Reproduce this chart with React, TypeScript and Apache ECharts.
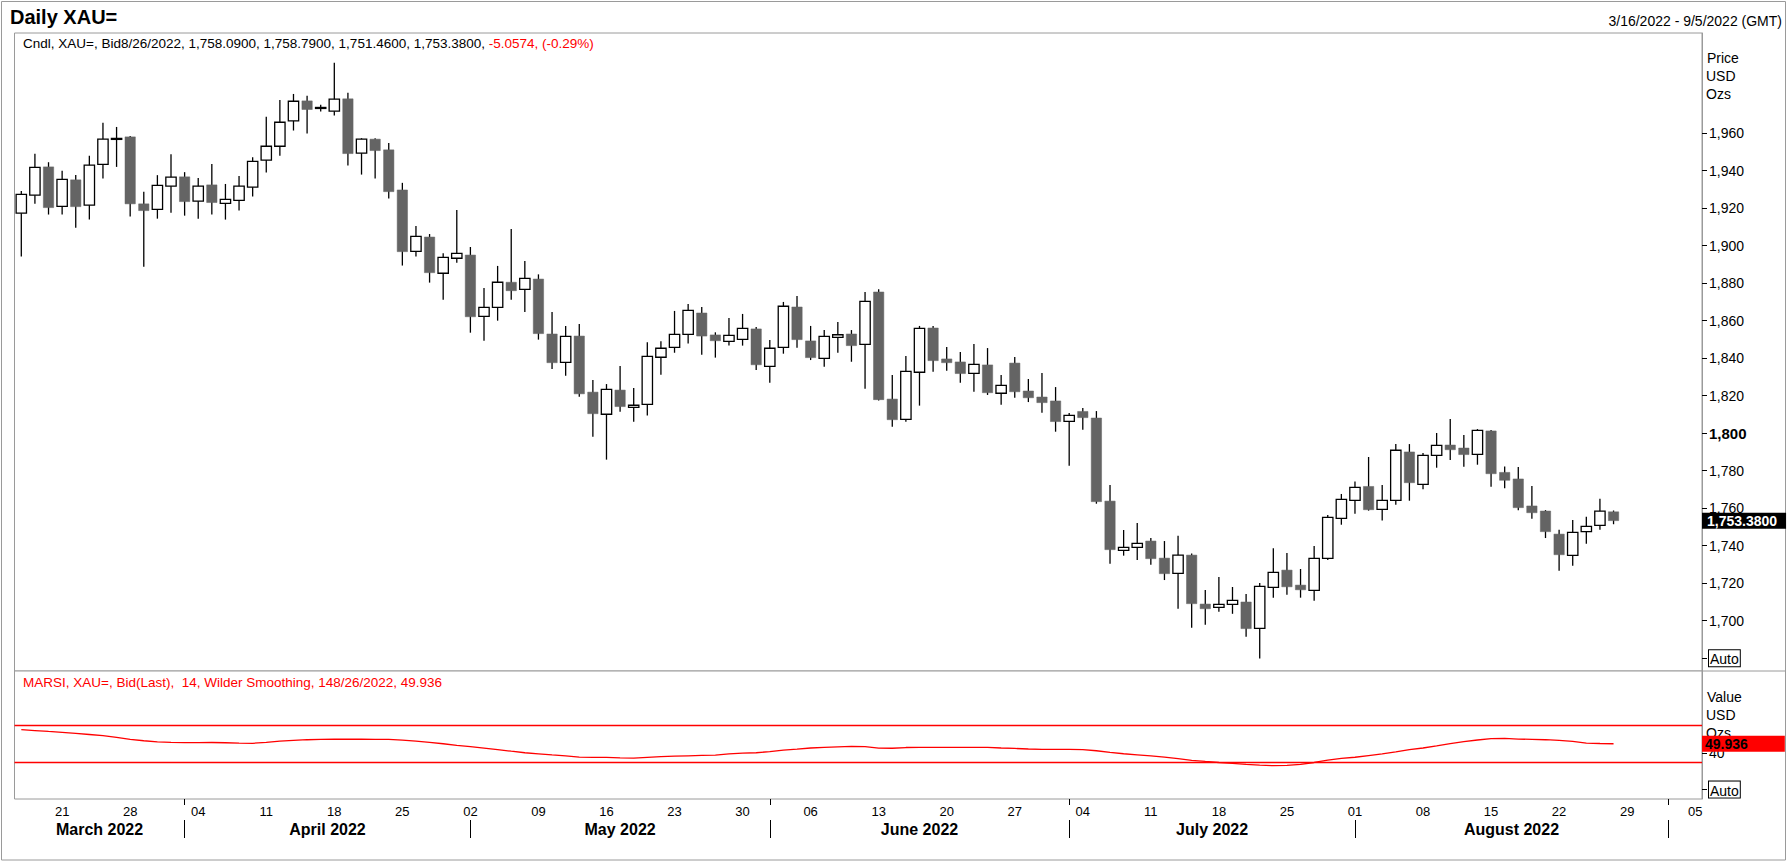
import React, { useEffect, useRef } from 'react';
import * as echarts from 'echarts';

// ---------- data ----------
const rangeStart = '2022-03-16';
const rangeEnd = '2022-09-05';
const instrument = 'XAU=';

const opens = [
  1917.3, 1926.9, 1942.0, 1921.0, 1935.1, 1921.6, 1943.4, 1956.9, 1958.0, 1922.3,
  1919.4, 1931.7, 1936.7, 1923.7, 1932.4, 1922.6, 1924.2, 1931.2, 1945.6, 1953.0,
  1966.5, 1977.2, 1973.3, 1971.7, 1978.3, 1949.3, 1956.8, 1951.1, 1929.7, 1897.0,
  1904.6, 1885.3, 1893.3, 1895.0, 1862.3, 1867.1, 1880.5, 1876.7, 1882.2, 1852.9,
  1837.8, 1851.8, 1821.9, 1810.1, 1823.0, 1813.8, 1815.4, 1840.5, 1845.8, 1852.7,
  1864.1, 1852.4, 1849.0, 1850.0, 1855.6, 1835.6, 1845.8, 1867.3, 1849.2, 1839.9,
  1851.1, 1852.9, 1847.4, 1875.3, 1818.2, 1807.4, 1832.5, 1856.1, 1839.6, 1838.0,
  1831.9, 1836.4, 1821.3, 1837.4, 1822.5, 1819.3, 1817.2, 1806.3, 1811.6, 1808.1,
  1763.8, 1737.5, 1739.1, 1742.5, 1733.4, 1725.3, 1735.0, 1708.9, 1707.1, 1708.7,
  1710.0, 1695.9, 1717.8, 1727.0, 1719.0, 1716.2, 1733.3, 1754.6, 1764.2, 1771.6,
  1759.4, 1764.2, 1790.0, 1772.7, 1788.2, 1793.7, 1792.1, 1788.7, 1801.2, 1779.1,
  1775.6, 1761.2, 1758.5, 1746.2, 1734.9, 1747.5, 1750.9, 1758.09,
];
const highs = [
  1929.2, 1949.0, 1944.5, 1939.9, 1937.7, 1947.9, 1965.5, 1963.3, 1958.5, 1928.7,
  1937.6, 1948.7, 1939.2, 1936.1, 1943.6, 1932.9, 1937.2, 1947.2, 1968.7, 1977.7,
  1980.9, 1979.9, 1975.1, 1997.5, 1981.5, 1957.3, 1957.3, 1954.8, 1933.5, 1910.5,
  1906.2, 1895.9, 1919.0, 1899.3, 1877.4, 1889.2, 1908.9, 1891.8, 1884.7, 1864.6,
  1857.2, 1858.2, 1828.4, 1826.2, 1835.8, 1824.1, 1848.5, 1849.0, 1865.2, 1868.9,
  1867.3, 1853.8, 1861.4, 1863.6, 1856.6, 1849.7, 1870.0, 1873.2, 1857.2, 1855.0,
  1859.3, 1855.0, 1875.3, 1876.7, 1831.0, 1841.2, 1857.2, 1857.2, 1846.0, 1843.3,
  1847.6, 1845.4, 1831.0, 1840.6, 1828.9, 1832.1, 1824.6, 1810.8, 1813.4, 1811.8,
  1772.4, 1748.4, 1752.1, 1744.1, 1742.5, 1745.3, 1735.9, 1716.4, 1723.3, 1718.0,
  1714.2, 1720.1, 1738.6, 1736.1, 1727.6, 1739.8, 1756.4, 1767.6, 1774.3, 1787.3,
  1772.4, 1794.2, 1794.2, 1789.4, 1800.1, 1807.6, 1799.0, 1802.2, 1801.7, 1782.3,
  1782.0, 1771.8, 1759.0, 1748.5, 1753.7, 1755.5, 1765.1, 1758.79,
];
const lows = [
  1894.2, 1922.3, 1916.6, 1916.6, 1909.6, 1913.9, 1935.8, 1942.0, 1915.5, 1888.8,
  1914.4, 1917.6, 1916.0, 1914.4, 1916.6, 1913.9, 1918.7, 1926.2, 1939.0, 1948.0,
  1961.4, 1959.8, 1971.5, 1969.4, 1942.7, 1937.9, 1935.8, 1925.1, 1889.4, 1894.2,
  1880.3, 1871.2, 1890.9, 1853.6, 1849.3, 1860.0, 1871.2, 1864.6, 1849.9, 1834.2,
  1830.7, 1819.5, 1798.1, 1785.9, 1811.5, 1806.1, 1809.4, 1831.2, 1842.9, 1847.8,
  1841.9, 1840.3, 1846.7, 1846.7, 1833.7, 1826.9, 1842.4, 1845.6, 1839.0, 1835.5,
  1842.9, 1838.1, 1823.7, 1817.5, 1803.5, 1806.1, 1814.7, 1832.8, 1833.3, 1826.9,
  1822.1, 1820.4, 1815.2, 1818.9, 1816.6, 1810.9, 1800.8, 1782.7, 1801.9, 1762.4,
  1730.4, 1734.7, 1732.4, 1729.9, 1721.7, 1706.4, 1696.3, 1697.9, 1704.8, 1703.7,
  1691.5, 1679.8, 1712.3, 1713.9, 1712.3, 1710.7, 1732.4, 1751.2, 1757.1, 1758.7,
  1753.4, 1761.9, 1764.0, 1770.1, 1781.6, 1785.7, 1782.1, 1783.2, 1771.5, 1770.6,
  1758.9, 1754.4, 1744.1, 1726.7, 1729.3, 1741.1, 1748.5, 1751.46,
];
const closes = [
  1927.4, 1941.8, 1920.3, 1935.4, 1920.8, 1942.9, 1956.8, 1957.2, 1922.3, 1918.7,
  1932.2, 1936.5, 1923.5, 1931.7, 1923.0, 1924.7, 1931.7, 1945.0, 1953.0, 1965.8,
  1977.0, 1972.6, 1973.7, 1978.1, 1949.1, 1956.8, 1950.7, 1928.8, 1896.8, 1905.0,
  1885.6, 1893.8, 1895.9, 1862.1, 1867.1, 1880.5, 1876.0, 1882.6, 1853.1, 1837.6,
  1851.6, 1821.0, 1810.4, 1823.4, 1814.2, 1814.9, 1841.0, 1845.3, 1852.7, 1865.5,
  1851.8, 1849.3, 1852.2, 1855.9, 1836.5, 1845.3, 1867.7, 1849.9, 1840.3, 1851.6,
  1852.5, 1846.7, 1870.3, 1817.9, 1807.2, 1833.0, 1855.9, 1838.7, 1837.6, 1831.8,
  1836.7, 1821.6, 1825.5, 1822.1, 1818.9, 1816.3, 1806.2, 1809.5, 1808.3, 1763.5,
  1737.9, 1739.1, 1741.3, 1733.1, 1725.1, 1735.0, 1709.1, 1706.4, 1708.7, 1710.9,
  1695.8, 1718.3, 1725.8, 1718.1, 1716.5, 1733.3, 1755.1, 1764.7, 1771.1, 1759.2,
  1764.2, 1790.9, 1773.6, 1788.2, 1793.5, 1791.2, 1788.6, 1801.5, 1778.4, 1774.9,
  1760.3, 1757.6, 1747.5, 1735.2, 1747.1, 1750.3, 1758.4374, 1753.38,
];
const rsiValues = [
  65.2, 64.3, 63.3, 62.4, 61.2, 60.0, 58.7, 56.8, 54.7, 53.2,
  51.9, 51.4, 51.2, 51.2, 51.3, 51.0, 50.6, 50.4, 51.5, 52.8,
  53.6, 54.3, 54.7, 54.8, 54.8, 54.8, 54.7, 54.6, 53.9, 52.8,
  51.5, 49.9, 48.2, 46.7, 45.2, 43.6, 41.8, 40.1, 38.9, 37.7,
  36.6, 35.4, 35.1, 35.1, 34.6, 34.2, 35.0, 35.8, 36.4, 36.8,
  37.2, 37.5, 38.8, 39.7, 40.1, 41.4, 43.0, 44.0, 45.3, 46.0,
  46.6, 47.1, 46.8, 45.2, 45.0, 45.8, 46.0, 46.0, 46.0, 46.0,
  46.0, 46.0, 45.3, 44.8, 44.2, 43.8, 43.8, 43.8, 43.6, 42.3,
  40.6, 39.0, 37.8, 36.6, 35.3, 33.6, 31.9, 30.6, 29.5, 28.5,
  27.4, 26.6, 26.0, 26.3, 27.5, 29.5, 32.0, 34.0, 35.2, 37.0,
  38.8, 41.0, 43.5, 45.3, 47.6, 50.0, 52.3, 54.0, 55.5, 55.8,
  55.0, 54.7, 54.3, 53.6, 52.5, 50.5, 50.2, 49.936,
];
const priceTicks = [1680, 1700, 1720, 1740, 1760, 1780, 1800, 1820, 1840, 1860, 1880, 1900, 1920, 1940, 1960];
const rsiTicks = [0, 40];
const rsiBands = [70, 30];
const monthNames = ['January', 'February', 'March', 'April', 'May', 'June', 'July', 'August', 'September', 'October', 'November', 'December'];

// ---------- helpers ----------
const FONT = "'Liberation Sans', Arial, sans-serif";
const GREY = '#9a9a9a';
const UP_FILL = '#ffffff';
const DOWN_FILL = '#646464';

function tradingDays(start: string, end: string): Date[] {
  const out: Date[] = [];
  const d = new Date(start + 'T00:00:00Z');
  const e = new Date(end + 'T00:00:00Z');
  while (d.getTime() <= e.getTime()) {
    const wd = d.getUTCDay();
    if (wd !== 0 && wd !== 6) out.push(new Date(d.getTime()));
    d.setUTCDate(d.getUTCDate() + 1);
  }
  return out;
}
const pad2 = (n: number) => (n < 10 ? '0' + n : '' + n);
const isoOf = (d: Date) => `${d.getUTCFullYear()}-${pad2(d.getUTCMonth() + 1)}-${pad2(d.getUTCDate())}`;
const usOf = (d: Date) => `${d.getUTCMonth() + 1}/${d.getUTCDate()}/${d.getUTCFullYear()}`;
const fmt4 = (v: number) => v.toLocaleString('en-US', { minimumFractionDigits: 4, maximumFractionDigits: 4 });
const fmt0 = (v: number) => v.toLocaleString('en-US', { maximumFractionDigits: 0 });

export default function App() {
  const ref = useRef<HTMLDivElement>(null);

  useEffect(() => {
    if (!ref.current) return;
    const chart = echarts.init(ref.current, undefined, { renderer: 'svg' });

    const days = tradingDays(rangeStart, rangeEnd);
    const cats = days.map(isoOf);
    const N = cats.length;
    const last = closes.length - 1;
    const lastDate = days[last];

    const mondayIdx: number[] = [];
    const monthStartIdx: number[] = [];
    days.forEach((d, i) => {
      if (d.getUTCDay() === 1) mondayIdx.push(i);
      if (i > 0 && d.getUTCMonth() !== days[i - 1].getUTCMonth()) monthStartIdx.push(i);
    });
    const shortTickIdx = monthStartIdx.filter((i) => days[i].getUTCDay() !== 1);
    const bounds = [-0.5, ...monthStartIdx, N - 0.5];
    const monthMid: number[] = [];
    const monthLabelMap: Record<string, string> = {};
    for (let k = 0; k < bounds.length - 1; k++) {
      const a = bounds[k];
      const b = bounds[k + 1];
      if (b - a < 8) continue;
      const mid = (a + b) / 2;
      const d = days[Math.max(0, Math.ceil(a))];
      monthMid.push(mid);
      monthLabelMap[String(mid)] = `${monthNames[d.getUTCMonth()]} ${d.getUTCFullYear()}`;
    }

    const candleData = opens.map((o, i) => [i, o, closes[i], lows[i], highs[i]]);
    const chg = closes[last] - closes[last - 1];
    const pct = (chg / closes[last - 1]) * 100;
    const headMain = `Cndl, ${instrument}, Bid${usOf(lastDate)}, ${fmt4(opens[last])}, ${fmt4(highs[last])}, ${fmt4(lows[last])}, ${fmt4(closes[last])}, `;
    const headChg = `${chg.toFixed(4)}, (${pct.toFixed(2)}%)`;
    const rsiLast = rsiValues[rsiValues.length - 1];
    const headRsi = `MARSI, ${instrument}, Bid(Last),  14, Wilder Smoothing, 14${usOf(lastDate)}, ${rsiLast.toFixed(3)}`;
    const rangeText = `${usOf(days[0])} - ${usOf(days[N - 1])} (GMT)`;

    const gridL = 14.5;
    const gridR = 86;
    const mainTop = 33;
    const mainH = 638;
    const rsiTop = 671;
    const rsiH = 128;

    const txt = (text: string, x: number, y: number, extra: any = {}) => ({
      type: 'text',
      x,
      y,
      silent: true,
      style: { text, fontFamily: FONT, fontSize: 14, fill: '#000', align: 'left', verticalAlign: 'middle', ...extra },
    });

    const autoRich = {
      fontSize: 14, color: '#000', fontFamily: FONT, borderColor: '#000', borderWidth: 1,
      backgroundColor: '#fff', padding: [2, 1, 0, 1],
    };

    const option: any = {
      animation: false,
      backgroundColor: '#ffffff',
      textStyle: { fontFamily: FONT },
      grid: [
        { left: gridL, right: gridR, top: mainTop, height: mainH, show: true, borderColor: GREY, borderWidth: 1, backgroundColor: '#fff' },
        { left: gridL, right: gridR, top: rsiTop, height: rsiH, show: true, borderColor: GREY, borderWidth: 1, backgroundColor: '#fff' },
      ],
      xAxis: [
        { gridIndex: 0, type: 'category', data: cats, show: false, axisLine: { onZero: false } },
        { gridIndex: 1, type: 'category', data: cats, show: false, axisLine: { onZero: false } },
        {
          gridIndex: 1, type: 'value', min: -0.5, max: N - 0.5, position: 'bottom',
          axisLine: { show: false, onZero: false },
          axisTick: { show: true, customValues: shortTickIdx, length: 6, lineStyle: { color: '#000', width: 1 } },
          axisLabel: {
            customValues: mondayIdx, margin: 6, fontSize: 13, color: '#000', fontFamily: FONT,
            formatter: (v: number) => pad2(days[Math.round(v)].getUTCDate()),
          },
          splitLine: { show: false },
        },
        {
          gridIndex: 1, type: 'value', min: -0.5, max: N - 0.5, position: 'bottom', offset: 21,
          axisLine: { show: false, onZero: false },
          axisTick: { show: true, customValues: monthStartIdx, length: 18, lineStyle: { color: '#000', width: 1 } },
          axisLabel: {
            customValues: monthMid, margin: 1, fontSize: 16, fontWeight: 'bold', color: '#000', fontFamily: FONT,
            formatter: (v: number) => monthLabelMap[String(v)] || '',
          },
          splitLine: { show: false },
        },
      ],
      yAxis: [
        {
          gridIndex: 0, type: 'value', position: 'right', min: 1673.2, max: 2013.4,
          axisLine: { show: true, onZero: false, lineStyle: { color: GREY, width: 1 } },
          axisTick: { show: true, customValues: priceTicks, length: 5, lineStyle: { color: '#000', width: 1 } },
          axisLabel: {
            customValues: priceTicks, margin: 7, fontSize: 14, color: '#000', fontFamily: FONT,
            formatter: (v: number) => (v === priceTicks[0] ? '{auto|Auto}' : v === 1800 ? `{b|${fmt0(v)}}` : fmt0(v)),
            rich: {
              b: { fontWeight: 'bold', fontSize: 15, color: '#000', fontFamily: FONT },
              auto: autoRich,
            },
          },
          splitLine: { show: false },
        },
        {
          gridIndex: 1, type: 'value', position: 'right', min: -10.3, max: 129.2,
          axisLine: { show: true, onZero: false, lineStyle: { color: GREY, width: 1 } },
          axisTick: { show: true, customValues: rsiTicks, length: 5, lineStyle: { color: '#000', width: 1 } },
          axisLabel: {
            customValues: rsiTicks, margin: 7, fontSize: 14, color: '#000', fontFamily: FONT,
            formatter: (v: number) => (v === 0 ? '{auto|Auto}' : String(v)),
            rich: { auto: autoRich },
          },
          splitLine: { show: false },
        },
      ],
      series: [
        {
          type: 'custom',
          name: 'Cndl',
          xAxisIndex: 0,
          yAxisIndex: 0,
          data: candleData,
          encode: { x: 0, y: [1, 2, 3, 4] },
          renderItem: (params: any, api: any) => {
            const i = api.value(0);
            const o = api.value(1);
            const c = api.value(2);
            const l = api.value(3);
            const h = api.value(4);
            const pO = api.coord([i, o]);
            const pC = api.coord([i, c]);
            const pL = api.coord([i, l]);
            const pH = api.coord([i, h]);
            const w = api.size([1, 0])[0] * 0.76;
            const up = c >= o;
            const top = Math.min(pO[1], pC[1]);
            const bh = Math.max(Math.abs(pO[1] - pC[1]), 1);
            return {
              type: 'group',
              children: [
                { type: 'line', shape: { x1: pH[0], y1: pH[1], x2: pL[0], y2: pL[1] }, style: { stroke: '#000', lineWidth: 1.3 } },
                {
                  type: 'rect',
                  shape: { x: pO[0] - w / 2, y: top, width: w, height: bh },
                  style: up ? { fill: UP_FILL, stroke: '#000', lineWidth: 1.3 } : { fill: DOWN_FILL, stroke: DOWN_FILL, lineWidth: 0.5 },
                },
              ],
            };
          },
          markLine: {
            silent: true,
            symbol: ['none', 'none'],
            animation: false,
            data: [
              {
                yAxis: closes[last],
                lineStyle: { color: 'rgba(0,0,0,0)', width: 0 },
                label: {
                  show: true, position: 'end', distance: 0, formatter: fmt4(closes[last]),
                  backgroundColor: '#000', color: '#fff', fontWeight: 'bold', fontSize: 14, fontFamily: FONT,
                  padding: [1, 9, 1, 5],
                },
              },
            ],
          },
        },
        {
          type: 'line',
          name: 'MARSI',
          xAxisIndex: 1,
          yAxisIndex: 1,
          data: rsiValues,
          symbol: 'none',
          showSymbol: false,
          lineStyle: { color: '#ff0000', width: 1.3 },
          markLine: {
            silent: true,
            symbol: ['none', 'none'],
            animation: false,
            label: { show: false },
            lineStyle: { color: '#ff0000', width: 1.3, type: 'solid' },
            data: [
              ...rsiBands.map((b) => ({ yAxis: b })),
              {
                yAxis: rsiLast,
                lineStyle: { color: 'rgba(0,0,0,0)', width: 0 },
                label: {
                  show: true, position: 'end', distance: 0, formatter: rsiLast.toFixed(3),
                  backgroundColor: '#ff0000', color: '#000', fontWeight: 'bold', fontSize: 14, fontFamily: FONT,
                  padding: [1, 37, 1, 3],
                },
              },
            ],
          },
        },
      ],
      graphic: [
        { type: 'rect', silent: true, shape: { x: 1.5, y: 1.5, width: 1784, height: 858.5 }, style: { fill: 'none', stroke: GREY, lineWidth: 1 } },
        { type: 'line', silent: true, shape: { x1: 1702, y1: rsiTop, x2: 1785.5, y2: rsiTop }, style: { stroke: GREY, lineWidth: 1 } },
        txt('Daily ' + instrument, 10, 17, { fontSize: 20, fontWeight: 'bold' }),
        txt(rangeText, 1782, 21, { align: 'right' }),
        {
          type: 'text', x: 23, y: 43, silent: true,
          style: {
            text: `{k|${headMain}}{r|${headChg}}`,
            fontFamily: FONT, fontSize: 13.5, verticalAlign: 'middle', align: 'left',
            rich: {
              k: { fill: '#000', fontSize: 13.5, fontFamily: FONT },
              r: { fill: '#ff0000', fontSize: 13.5, fontFamily: FONT },
            },
          },
        },
        txt(headRsi, 23, 682, { fontSize: 13.5, fill: '#ff0000' }),
        txt('Price', 1707, 58),
        txt('USD', 1706, 76),
        txt('Ozs', 1706, 94),
        txt('Value', 1707, 697),
        txt('USD', 1706, 715),
        txt('Ozs', 1706, 733),
      ],
    };

    chart.setOption(option);
    return () => chart.dispose();
  }, []);

  return <div ref={ref} style={{ position: 'fixed', left: 0, top: 0, width: 1788, height: 862, background: '#fff' }} />;
}
